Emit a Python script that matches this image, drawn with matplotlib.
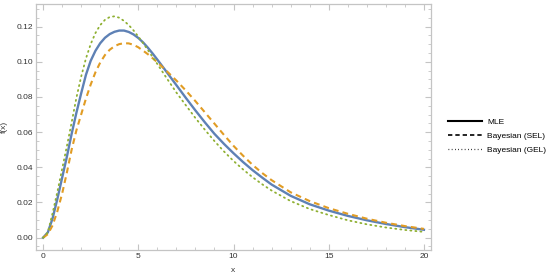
import matplotlib.pyplot as plt
from matplotlib.ticker import MultipleLocator

# values
x = [0, 0.25, 0.5, 0.75, 1, 1.25, 1.5, 1.75, 2, 2.25, 2.5, 2.75, 3, 3.25, 3.5, 3.75,
     4, 4.25, 4.5, 4.75, 5, 5.25, 5.5, 5.75, 6, 6.5, 7, 7.5, 8, 8.5, 9, 9.5,
     10, 10.5, 11, 11.5, 12, 13, 14, 15, 16, 17, 18, 19, 20]
mle = [0, 0.003, 0.011, 0.022, 0.034, 0.046, 0.059, 0.071, 0.082, 0.0925, 0.1005,
       0.1062, 0.1105, 0.1136, 0.1157, 0.1170, 0.1177, 0.1177, 0.1169, 0.1155,
       0.1135, 0.1110, 0.1080, 0.1047, 0.1012, 0.0940, 0.0867, 0.0794, 0.0723,
       0.0655, 0.0590, 0.0533, 0.0480, 0.0430, 0.0384, 0.0342, 0.0302, 0.0238,
       0.0190, 0.0154, 0.0124, 0.0099, 0.0078, 0.0060, 0.0045]
sel = [0, 0.002, 0.007, 0.015, 0.025, 0.037, 0.050, 0.061, 0.070, 0.079, 0.087,
       0.094, 0.0995, 0.1038, 0.1068, 0.1088, 0.1100, 0.1105, 0.1104, 0.1096,
       0.1082, 0.1063, 0.1043, 0.1020, 0.0997, 0.0946, 0.0893, 0.0836, 0.0776,
       0.0712, 0.0648, 0.0584, 0.0522, 0.0466, 0.0414, 0.0368, 0.0327, 0.0258,
       0.0208, 0.0168, 0.0136, 0.0108, 0.0085, 0.0066, 0.0050]
gel = [0, 0.003, 0.014, 0.026, 0.039, 0.052, 0.0655, 0.0795, 0.0915, 0.1018,
       0.1100, 0.1163, 0.1208, 0.1238, 0.1254, 0.1258, 0.1250, 0.1232, 0.1208,
       0.1178, 0.1143, 0.1106, 0.1067, 0.1027, 0.0987, 0.0905, 0.0825, 0.0752,
       0.0680, 0.0613, 0.0549, 0.0490, 0.0436, 0.0388, 0.0344, 0.0304, 0.0268,
       0.0208, 0.0163, 0.0129, 0.0099, 0.0076, 0.0058, 0.0044, 0.0033]

plt.rcParams['font.family'] = ['Liberation Sans', 'DejaVu Sans']

fig = plt.figure(figsize=(5.5, 2.79), dpi=100)
ax = fig.add_axes([0.0655, 0.1039, 0.7181, 0.8818])

ax.plot(x, mle, color='#5E81B5', lw=1.7, solid_joinstyle='round')
ax.plot(x, sel, color='#E19C24', lw=1.5, linestyle=(0, (2.8, 2.0)))
ax.plot(x, gel, color='#8FB032', lw=1.3, linestyle=(0, (0.6, 2.2)), dash_capstyle='round')

ax.set_xlim(-0.37, 20.37)
ax.set_ylim(-0.007, 0.1328)
ax.xaxis.set_major_locator(MultipleLocator(5))
ax.xaxis.set_minor_locator(MultipleLocator(1))
ax.yaxis.set_major_locator(MultipleLocator(0.02))
ax.yaxis.set_minor_locator(MultipleLocator(0.005))
ax.yaxis.set_major_formatter(plt.FuncFormatter(lambda v, p: f'{v:.2f}'))

for s in ax.spines.values():
    s.set_color('#c4c4c4')
    s.set_linewidth(0.9)
ax.tick_params(which='both', direction='in', top=True, right=True,
               color='#c4c4c4', labelsize=6, labelcolor='#333333', pad=2)
ax.tick_params(which='major', length=4, width=0.8)
ax.tick_params(which='minor', length=2.2, width=0.6)

ax.set_xlabel('x', fontsize=6, color='#333333', labelpad=5)
ax.set_ylabel('f(x)', fontsize=6, color='#333333', labelpad=6)

# legend drawn with black handles
h1, = ax.plot([], [], color='black', lw=1.5)
h2, = ax.plot([], [], color='black', lw=1.2, linestyle=(0, (2.6, 1.8)))
h3, = ax.plot([], [], color='black', lw=0.9, linestyle=(0, (0.6, 2.0)))
fig.legend([h1, h2, h3], ['MLE', 'Bayesian (SEL)', 'Bayesian (GEL)'],
           loc='center left', bbox_to_anchor=(448 / 550, 0.5125), frameon=False,
           fontsize=6, handlelength=4.1, handletextpad=0.6, labelspacing=0.75,
           borderpad=0, borderaxespad=0)

fig.savefig('out.png', dpi=100)
